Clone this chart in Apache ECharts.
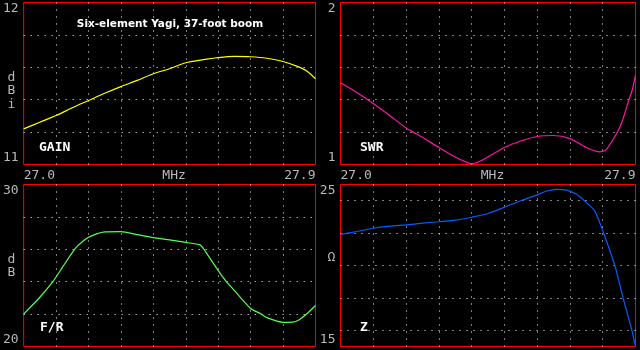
<!DOCTYPE html>
<html>
<head>
<meta charset="utf-8">
<script src="https://cdn.jsdelivr.net/npm/echarts@6/dist/echarts.min.js"></script>
<style>
html,body{margin:0;padding:0;background:#000;}
#chart{width:640px;height:350px;}
</style>
</head>
<body>
<div id="chart"></div>
<script>
// ---- data ----
var gainFreq = [27.00,27.05,27.10,27.15,27.20,27.25,27.30,27.35,27.40,27.45,27.50,27.55,27.60,27.65,27.70,27.75,27.80,27.85,27.875,27.90];
var gainVal  = [11.220,11.261,11.302,11.350,11.395,11.440,11.481,11.519,11.560,11.591,11.628,11.646,11.660,11.667,11.665,11.656,11.636,11.601,11.574,11.529];

var swrFreq = [27.00,27.05,27.10,27.15,27.20,27.25,27.30,27.35,27.38,27.40,27.42,27.45,27.50,27.55,27.60,27.65,27.70,27.75,27.79,27.81,27.83,27.845,27.86,27.88,27.89,27.90];
var swrVal  = [1.505,1.445,1.376,1.302,1.226,1.168,1.105,1.046,1.018,1.004,1.015,1.046,1.105,1.145,1.173,1.179,1.160,1.105,1.078,1.090,1.150,1.200,1.270,1.400,1.460,1.550];

var frFreq = [27.00,27.05,27.09,27.12,27.157,27.18,27.20,27.225,27.25,27.30,27.35,27.40,27.45,27.50,27.544,27.556,27.60,27.625,27.65,27.70,27.733,27.75,27.80,27.83,27.85,27.875,27.90];
var frVal  = [22.0,23.04,24.0,24.9,26.0,26.45,26.74,26.95,27.07,27.09,26.91,26.72,26.58,26.43,26.27,26.0,24.68,24.0,23.45,22.35,22.0,21.78,21.49,21.5,21.65,22.05,22.53];

var zFreq = [27.00,27.05,27.10,27.15,27.20,27.25,27.30,27.35,27.40,27.45,27.50,27.55,27.60,27.63,27.66,27.69,27.72,27.744,27.775,27.80,27.837,27.862,27.889,27.90];
var zVal  = [21.92,22.10,22.30,22.43,22.51,22.61,22.70,22.80,22.98,23.21,23.60,24.00,24.36,24.60,24.70,24.65,24.40,24.00,23.39,22.15,20.0,18.0,16.0,15.0];

var freqTicks = ['27.0', '27.9'];
var freqUnit = 'MHz';
var gainTicks = ['11', '12'];
var swrTicks = ['1', '2'];
var frTicks = ['20', '30'];
var zTicks = ['15', '25'];

var panelNames = ['GAIN', 'SWR', 'F/R', 'Z'];
var unitNames = ['d\nB\ni', '', 'd\nB', 'Ω'];
var titleText = 'Six-element Yagi, 37-foot boom';

function pairs(xs, ys){ return xs.map(function(x,i){ return [x, ys[i]]; }); }

var LABEL_FONT = 'DejaVu Sans Mono';
var GRAY = '#b8b8b8';
var DOT = {color:'#ffffff', width:1, type:[1,6]};

var grids = [
  {left:20.5, top:2.5, width:295, height:162},
  {left:340.5, top:2.5, width:295, height:162},
  {left:20.5, top:184.5, width:295, height:162},
  {left:340.5, top:184.5, width:295, height:162}
].map(function(g){ return Object.assign({show:true, borderColor:'#ff0000', borderWidth:1, backgroundColor:'transparent', containLabel:false}, g); });

function xAx(i, showLabels){
  return {
    type:'value', gridIndex:i, min:27.0, max:27.9, interval:0.1,
    axisLine:{show:false}, axisTick:{show:false},
    splitLine:{show:true, showMinLine:false, showMaxLine:false, lineStyle:DOT},
    name: showLabels ? freqUnit : '', nameLocation:'middle', nameGap:11, nameMoveOverlap:false,
    nameTextStyle:{color:GRAY, fontFamily:LABEL_FONT, fontSize:13, verticalAlign:'middle', padding:[0,0,0,9]},
    axisLabel:{
      show:showLabels, color:GRAY, fontFamily:LABEL_FONT, fontSize:13, margin:5,
      alignMinLabel:'left', alignMaxLabel:'right',
      formatter:function(v){
        if (Math.abs(v-27.0)<1e-6) return freqTicks[0];
        if (Math.abs(v-27.9)<1e-6) return freqTicks[1];
        return '';
      }
    }
  };
}
function yAx(i, min, max, interval, ticks, minor){
  var ax = {
    type:'value', gridIndex:i, min:min, max:max, interval:interval,
    axisLine:{show:false}, axisTick:{show:false},
    splitLine:{show:!minor, showMinLine:false, showMaxLine:false, lineStyle:DOT},
    axisLabel:{
      color:GRAY, fontFamily:LABEL_FONT, fontSize:13, margin:5,
      verticalAlignMinLabel:'bottom', verticalAlignMaxLabel:'top',
      formatter:function(v){
        if (Math.abs(v-min)<1e-6) return ticks[0];
        if (Math.abs(v-max)<1e-6) return ticks[1];
        return '';
      }
    }
  };
  if (minor){
    ax.minorTick = {show:false, splitNumber:2};
    ax.minorSplitLine = {show:true, lineStyle:DOT};
  }
  return ax;
}

function ser(i, xs, ys, color, smooth){
  return {
    type:'line', xAxisIndex:i, yAxisIndex:i, data:pairs(xs, ys),
    showSymbol:false, smooth:smooth, silent:true,
    lineStyle:{color:color, width:1.2}, z:5
  };
}

function txt(x, y, text, opts){
  return {type:'text', x:x, y:y, silent:true, z:10,
    style:Object.assign({text:text, fill:'#fff', font:'bold 13px "DejaVu Sans Mono"', textVerticalAlign:'middle'}, opts||{})};
}

var option = {
  backgroundColor:'#000',
  animation:false,
  grid:grids,
  xAxis:[xAx(0,true), xAx(1,true), xAx(2,false), xAx(3,false)],
  yAxis:[
    yAx(0, 11, 12, 0.2, gainTicks, false),
    yAx(1, 1, 2, 0.2, swrTicks, false),
    yAx(2, 20, 30, 2, frTicks, false),
    yAx(3, 15, 25, 2, zTicks, true)
  ],
  series:[
    ser(0, gainFreq, gainVal, '#ffff00', 0.3),
    ser(1, swrFreq, swrVal, '#ff14a8', 0.25),
    ser(2, frFreq, frVal, '#55ff55', 0.2),
    ser(3, zFreq, zVal, '#0a5aff', 0.25)
  ],
  graphic:[
    txt(170, 24, titleText, {font:'bold 10.5px "DejaVu Sans"', textAlign:'center'}),
    txt(39, 148, panelNames[0]),
    txt(360, 148, panelNames[1]),
    txt(40, 328, panelNames[2]),
    txt(360, 328, panelNames[3]),
    txt(11.5, 91, unitNames[0], {fill:GRAY, font:'13px "DejaVu Sans Mono"', textAlign:'center', lineHeight:13.5}),
    txt(11.5, 266, unitNames[2], {fill:GRAY, font:'13px "DejaVu Sans Mono"', textAlign:'center', lineHeight:13.5}),
    txt(331.5, 258, unitNames[3], {fill:GRAY, font:'13px "DejaVu Sans Mono"', textAlign:'center'})
  ]
};

var chart = echarts.init(document.getElementById('chart'), null, {renderer:'canvas'});
chart.setOption(option);
</script>
</body>
</html>
